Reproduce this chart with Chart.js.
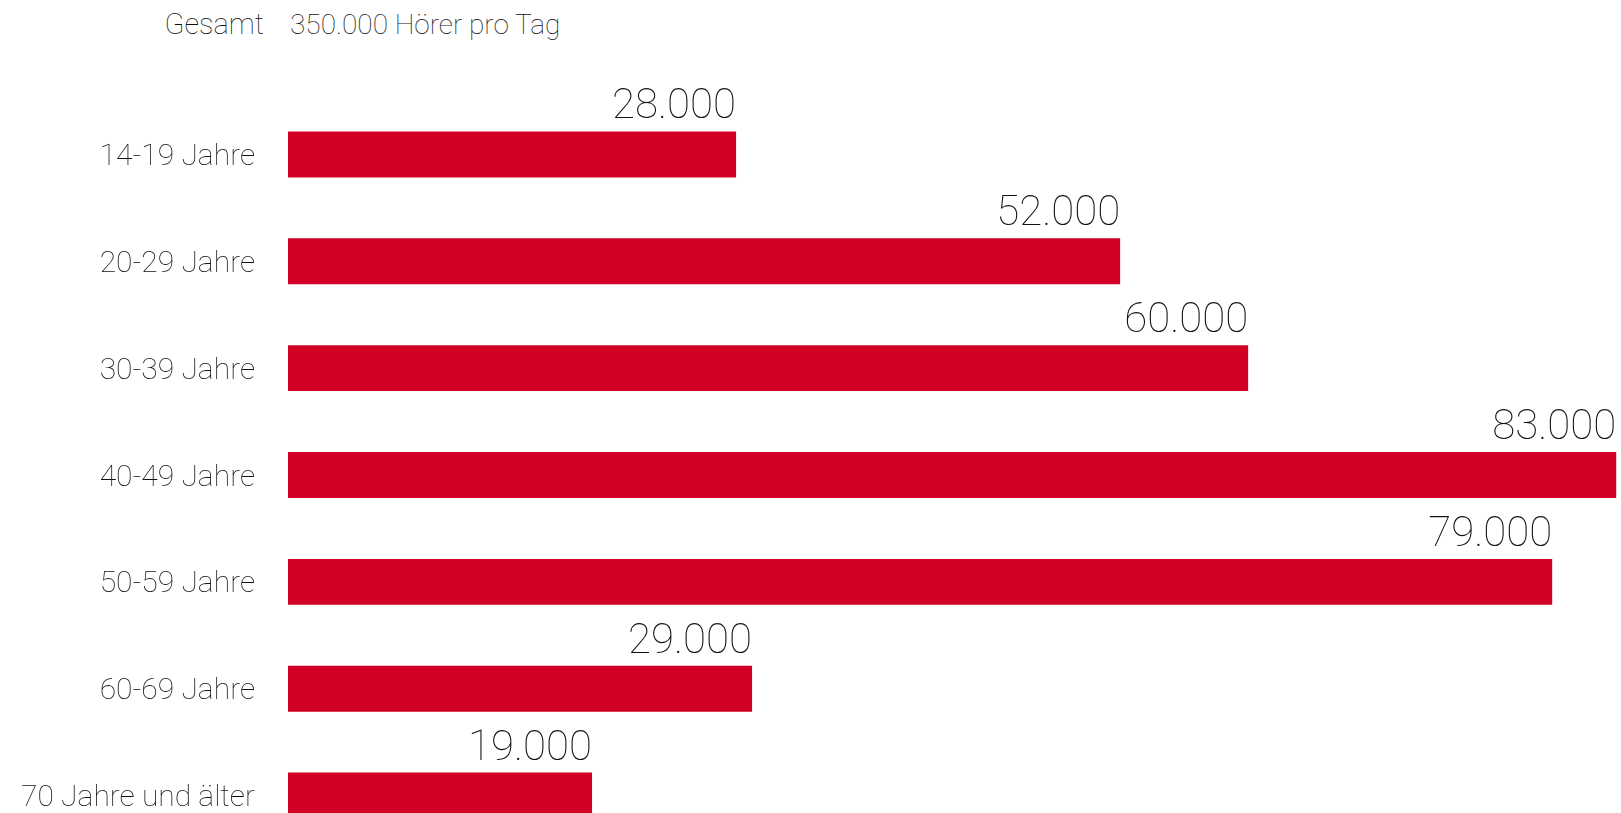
<!doctype html>
<html lang="de">
<head>
<meta charset="utf-8">
<title>Hörer pro Tag nach Alter</title>
<script src="https://cdn.jsdelivr.net/npm/chart.js@4.4.1/dist/chart.umd.min.js"></script>
<style>
  html, body { margin: 0; padding: 0; background: #fff; overflow: hidden; }
  body { width: 1621px; height: 813px; position: relative; font-family: Roboto, sans-serif; color: #111; }
  #head-left { position: absolute; top: 7px; right: 1357px; font-size: 29px; font-weight: 100; }
  #head-right { position: absolute; top: 8px; left: 290px; font-size: 28px; font-weight: 100; }
  #wrap { position: absolute; left: 0; top: 0; width: 1621px; height: 892px; }
</style>
</head>
<body>
<div id="head-left">Gesamt</div>
<div id="head-right">350.000 Hörer pro Tag</div>
<div id="wrap"><canvas id="myChart" width="1621" height="892"></canvas></div>
<script>
var ageGroups = ['14-19 Jahre', '20-29 Jahre', '30-39 Jahre', '40-49 Jahre', '50-59 Jahre', '60-69 Jahre', '70 Jahre und älter']
var listeners = [28000, 52000, 60000, 83000, 79000, 29000, 19000]

function fmt(n) {
  return String(n).replace(/\B(?=(\d{3})+(?!\d))/g, '.')
}

// value labels above the bar ends
var valueLabels = {
  id: 'valueLabels',
  afterDatasetsDraw: function (chart) {
    var ctx = chart.ctx
    var meta = chart.getDatasetMeta(0)
    ctx.save()
    ctx.font = '100 42px Roboto'
    ctx.fillStyle = '#111'
    ctx.textAlign = 'right'
    ctx.textBaseline = 'alphabetic'
    meta.data.forEach(function (bar, i) {
      var top = bar.y - bar.height / 2
      ctx.fillText(fmt(listeners[i]), bar.x, top - 13)
    })
    ctx.restore()
  }
}

var ctx = document.getElementById('myChart').getContext('2d')
var chart = new Chart(ctx, {
  type: 'bar',
  data: {
    labels: ageGroups,
    datasets: [{
      data: listeners,
      backgroundColor: '#d20025',
      categoryPercentage: 1,
      barPercentage: 0.43
    }]
  },
  options: {
    indexAxis: 'y',
    responsive: false,
    animation: false,
    layout: { padding: { top: 101, bottom: 2, left: 0, right: 0 } },
    plugins: { legend: { display: false }, tooltip: { enabled: false } },
    scales: {
      x: { display: false, min: 0, max: 83300 },
      y: {
        grid: { display: false },
        border: { display: false },
        ticks: { color: '#111', font: { family: 'Roboto', size: 30, weight: '100' }, padding: 25, labelOffset: 3 },
        afterFit: function (scale) { scale.width = 288 }
      }
    }
  },
  plugins: [valueLabels]
})
</script>
</body>
</html>
